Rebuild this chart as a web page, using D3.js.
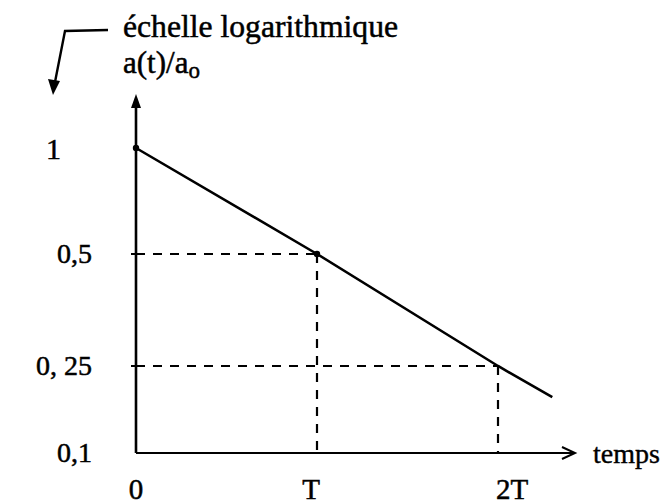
<!DOCTYPE html>
<html>
<head>
<meta charset="utf-8">
<script src="https://cdn.jsdelivr.net/npm/d3@7"></script>
<style>
  html, body { margin: 0; padding: 0; background: #fff; }
  svg { display: block; }
  text { font-family: "Liberation Serif", "DejaVu Serif", serif; fill: #000; }
</style>
</head>
<body>
<svg id="chart" width="664" height="504"></svg>
<script>
// ---- data ----
const yTickValues = [1, 0.5, 0.25, 0.1];
const yTickLabels = ["1", "0,5", "0, 25", "0,1"];
const xTickValues = [0, 1, 2];
const xTickLabels = ["0", "T", "2T"];
const lineT = [0, 1, 2, 2.3];
const lineA = [1, 0.5, 0.25, 0.18];
const markedT = [0, 1];
const markedA = [1, 0.5];
const guideT = [1, 2];
const guideA = [0.5, 0.25];
const yTitle = "échelle logarithmique";
const yVar = "a(t)/a";
const yVarSub = "o";
const xTitle = "temps";

const svg = d3.select("#chart");

// scales (hand-drawn log axis: piecewise log scale)
const x = d3.scaleLinear().domain([0, 2]).range([136, 498]);
const y = d3.scaleLog().domain([0.1, 0.25, 0.5, 1]).range([453, 366, 254, 148]);

const ink = "#000";

// guide dashed lines
guideT.forEach((t, i) => {
  svg.append("line")
    .attr("x1", x(0)).attr("x2", x(t))
    .attr("y1", y(guideA[i])).attr("y2", y(guideA[i]))
    .attr("stroke", ink).attr("stroke-width", 2)
    .attr("stroke-dasharray", "9,8");
  svg.append("line")
    .attr("x1", x(t)).attr("x2", x(t))
    .attr("y1", y(guideA[i])).attr("y2", y(0.1))
    .attr("stroke", ink).attr("stroke-width", 2.2)
    .attr("stroke-dasharray", "9,8");
});

// y axis
svg.append("line")
  .attr("x1", x(0)).attr("x2", x(0))
  .attr("y1", y(0.1)).attr("y2", 104)
  .attr("stroke", ink).attr("stroke-width", 2.6);
svg.append("path")
  .attr("d", `M${x(0)},94 L${x(0) - 5},108 L${x(0) + 5},108 Z`)
  .attr("fill", ink);

// y ticks
yTickValues.slice(1, 3).forEach(v => {
  svg.append("line")
    .attr("x1", x(0) - 5).attr("x2", x(0) + 4)
    .attr("y1", y(v)).attr("y2", y(v))
    .attr("stroke", ink).attr("stroke-width", 2);
});

// x axis
svg.append("line")
  .attr("x1", x(0)).attr("x2", 574)
  .attr("y1", y(0.1)).attr("y2", y(0.1))
  .attr("stroke", ink).attr("stroke-width", 2.2);
svg.append("path")
  .attr("d", `M562,${y(0.1) - 6} L575,${y(0.1)} L562,${y(0.1) + 6}`)
  .attr("fill", "none").attr("stroke", ink).attr("stroke-width", 2);

// data line
const pts = lineT.map((t, i) => [t, lineA[i]]);
svg.append("path")
  .attr("d", d3.line().x(d => x(d[0])).y(d => y(d[1]))(pts))
  .attr("fill", "none").attr("stroke", ink).attr("stroke-width", 2.6);

// marked points
markedT.forEach((t, i) => {
  svg.append("circle")
    .attr("cx", x(t)).attr("cy", y(markedA[i])).attr("r", 3.2)
    .attr("fill", ink);
});

// y tick labels
yTickValues.forEach((v, i) => {
  svg.append("text")
    .attr("x", v === 1 ? 61 : 92)
    .attr("y", y(v) + (v === 1 ? 11 : 9))
    .attr("text-anchor", "end")
    .attr("font-size", v === 1 ? 30 : 28)
    .attr("stroke", ink).attr("stroke-width", 0.5)
    .text(yTickLabels[i]);
});

// x tick labels
xTickValues.forEach((v, i) => {
  svg.append("text")
    .attr("x", i === 2 ? x(v) - 2 : x(v) + (i === 1 ? -6 : 0))
    .attr("y", 499)
    .attr("text-anchor", i === 2 ? "start" : "middle")
    .attr("font-size", 29)
    .attr("stroke", ink).attr("stroke-width", 0.5)
    .text(xTickLabels[i]);
});

// x title
svg.append("text")
  .attr("x", 593).attr("y", 463)
  .attr("font-size", 28)
  .attr("stroke", ink).attr("stroke-width", 0.4)
  .text(xTitle);

// y titles
svg.append("text")
  .attr("x", 123).attr("y", 37)
  .attr("font-size", 32)
  .attr("textLength", 275).attr("lengthAdjust", "spacingAndGlyphs")
  .attr("stroke", ink).attr("stroke-width", 0.5)
  .text(yTitle);
const yv = svg.append("text")
  .attr("x", 123).attr("y", 73)
  .attr("font-size", 31)
  .attr("stroke", ink).attr("stroke-width", 0.5);
yv.append("tspan").text(yVar);
yv.append("tspan").attr("font-size", 23).attr("dy", 5).text(yVarSub);

// hand-drawn pointer arrow
svg.append("path")
  .attr("d", "M108,30 L65,31 L55,82")
  .attr("fill", "none").attr("stroke", ink).attr("stroke-width", 2.4);
svg.append("path")
  .attr("d", "M53,95 L48,79 L60,81 Z")
  .attr("fill", ink);
</script>
</body>
</html>
